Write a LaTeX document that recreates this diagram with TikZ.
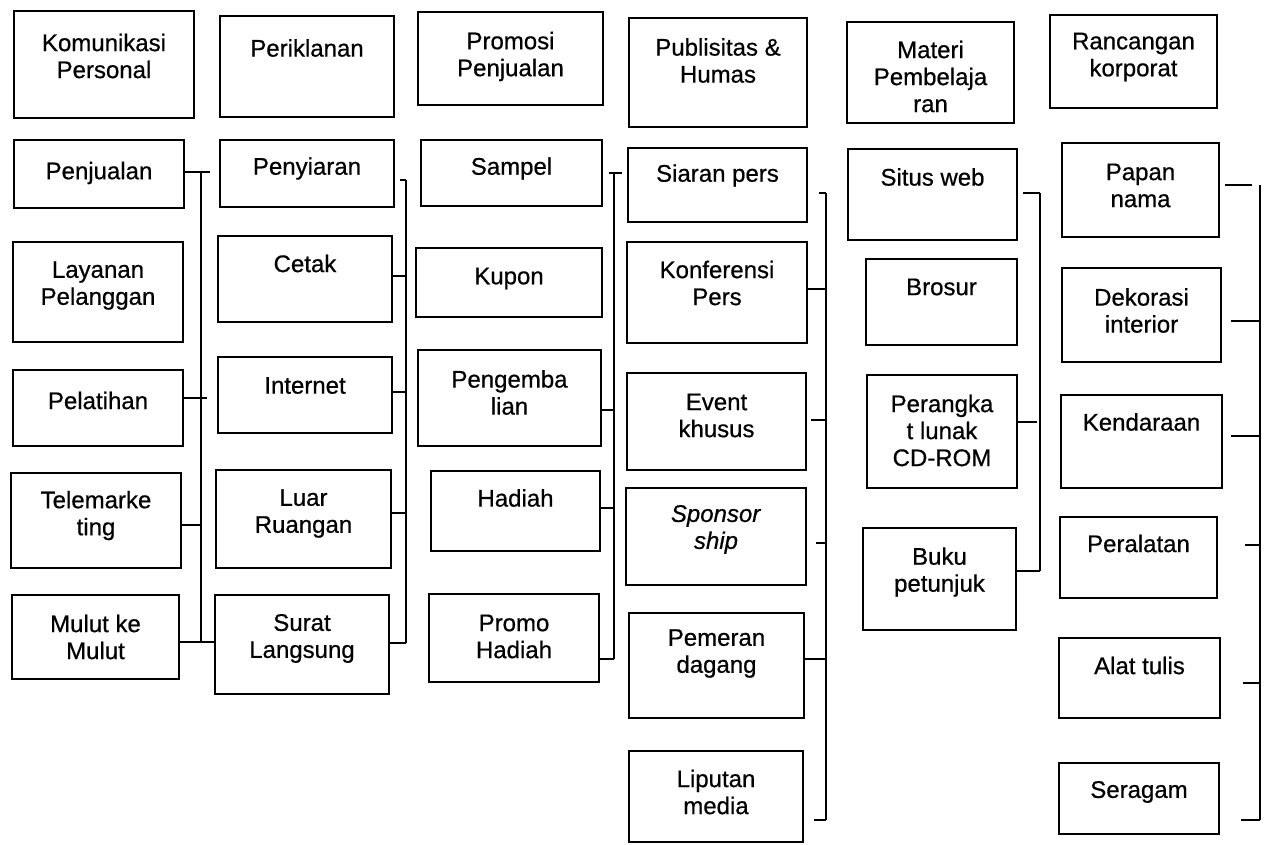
\documentclass[tikz,border=0pt]{standalone}
\usepackage{fontspec}
\setmainfont{Liberation Sans}
\newfontfamily\lblfont{Liberation Sans}[FakeBold=0.6]
\usetikzlibrary{fit}
\newcommand\mybox[7]{%
  \node[box, fit={(#2,#3) (#4,#5)}] (#1) {};
  \node[lbl] (#1-t) at ({(#2+#4)/2},#6) {#7};
}
\begin{document}
\begin{tikzpicture}[x=1pt,y=-1pt,
  box/.style={draw, line width=2.2pt, inner sep=0pt},
  lbl/.style={align=center, inner sep=0pt, font=\lblfont\fontsize{24}{27}\selectfont},
  conn/.style={line width=2pt}]
\useasboundingbox (0,0) rectangle (1267,844);

% headers
\mybox{h1}{14}{11}{194}{118}{56}{Komunikasi\\Personal}
\mybox{h2}{220}{16}{394}{117}{48}{Periklanan}
\mybox{h3}{418}{12}{603}{105}{56.5}{Promosi\\Penjualan}
\mybox{h4}{629}{18}{807}{127}{60.5}{Publisitas \&\\Humas}
\mybox{h5}{847}{22}{1014}{123}{76.5}{Materi\\Pembelaja\\ran}
\mybox{h6}{1050}{15}{1217}{108}{57}{Rancangan\\korporat}

% column 1
\mybox{pen}{14}{140}{184}{208}{173}{Penjualan}
\mybox{lay}{13}{242}{183}{342}{285.5}{Layanan\\Pelanggan}
\mybox{pel}{13}{370}{183}{446}{400.5}{Pelatihan}
\mybox{tel}{11}{473}{181}{568}{515.5}{Telemarke\\ting}
\mybox{mul}{12}{595}{179}{679}{637}{Mulut ke\\Mulut}

% column 2
\mybox{pny}{220}{140}{394}{207}{168.5}{Penyiaran}
\mybox{cet}{218}{236}{392}{322}{263.5}{Cetak}
\mybox{int}{218}{357}{392}{433}{385.5}{Internet}
\mybox{lua}{216}{470}{391}{568}{513.5}{Luar\\Ruangan}
\mybox{sur}{215}{595}{389}{694}{638.5}{Surat\\Langsung}

% column 3
\mybox{sam}{421}{140}{602}{206}{168.5}{Sampel}
\mybox{kup}{416}{248}{602}{317}{278.5}{Kupon}
\mybox{pgb}{418}{350}{601}{446}{392.5}{Pengemba\\lian}
\mybox{had}{431}{471}{600}{551}{498}{Hadiah}
\mybox{prh}{429}{594}{599}{682}{636.5}{Promo\\Hadiah}

% column 4
\mybox{sia}{628}{148}{807}{222}{175.5}{Siaran pers}
\mybox{kon}{627}{242}{807}{343}{283}{Konferensi\\Pers}
\mybox{eve}{627}{373}{806}{470}{415.5}{Event\\khusus}
\mybox{spo}{626}{488}{806}{585}{529.5}{\textit{Sponsor}\\\textit{ship}}
\mybox{pem}{629}{613}{804}{718}{653.5}{Pemeran\\dagang}
\mybox{lip}{629}{751}{803}{842}{792}{Liputan\\media}

% column 5
\mybox{sit}{848}{149}{1017}{240}{177}{Situs web}
\mybox{bro}{866}{259}{1017}{345}{287}{Brosur}
\mybox{prg}{867}{375}{1017}{488}{430.5}{Perangka\\t lunak\\CD-ROM}
\mybox{buk}{863}{528}{1016}{630}{572}{Buku\\petunjuk}

% column 6
\mybox{pap}{1062}{143}{1219}{237}{185.5}{Papan\\nama}
\mybox{dek}{1062}{268}{1221}{362}{310.5}{Dekorasi\\interior}
\mybox{ken}{1061}{395}{1222}{488}{422}{Kendaraan}
\mybox{per}{1060}{517}{1217}{598}{543.5}{Peralatan}
\mybox{ala}{1059}{638}{1220}{718}{665.5}{Alat tulis}
\mybox{ser}{1059}{763}{1219}{834}{792}{Seragam}

% spine 1
\coordinate (s1t) at (201,172);
\coordinate (s1c) at (201,398);
\coordinate (s1d) at (201,525);
\coordinate (s1b) at (201,642);
\draw[conn] (s1t) -- (s1b);
\draw[conn] (pen.east |- s1t) -- ([xshift=9pt]s1t);
\draw[conn] (pel.east |- s1c) -- ([xshift=6pt]s1c);
\draw[conn] (tel.east |- s1d) -- (s1d);
\draw[conn] (mul.east |- s1b) -- (sur.west |- s1b);

% spine 2
\coordinate (s2t) at (406,180);
\coordinate (s2a) at (406,276);
\coordinate (s2c) at (406,392);
\coordinate (s2d) at (406,513);
\coordinate (s2b) at (406,643);
\draw[conn] (s2t) -- (s2b);
\draw[conn] ([xshift=5pt]pny.east |- s2t) -- (s2t);
\draw[conn] (cet.east |- s2a) -- (s2a);
\draw[conn] (int.east |- s2c) -- (s2c);
\draw[conn] (lua.east |- s2d) -- (s2d);
\draw[conn] (sur.east |- s2b) -- (s2b);

% spine 3
\coordinate (s3t) at (614,173);
\coordinate (s3a) at (614,410);
\coordinate (s3c) at (614,508);
\coordinate (s3b) at (614,659);
\draw[conn] (s3t) -- (s3b);
\draw[conn] ([xshift=6pt]sam.east |- s3t) -- ([xshift=8pt]s3t);
\draw[conn] (pgb.east |- s3a) -- (s3a);
\draw[conn] (had.east |- s3c) -- (s3c);
\draw[conn] (prh.east |- s3b) -- (s3b);

% spine 4
\coordinate (s4t) at (826,193);
\coordinate (s4a) at (826,289);
\coordinate (s4c) at (826,420);
\coordinate (s4d) at (826,543);
\coordinate (s4e) at (826,659);
\coordinate (s4b) at (826,820);
\draw[conn] (s4t) -- (s4b);
\draw[conn] ([xshift=11pt]sia.east |- s4t) -- (s4t);
\draw[conn] (kon.east |- s4a) -- (s4a);
\draw[conn] ([xshift=4pt]eve.east |- s4c) -- (s4c);
\draw[conn] ([xshift=9pt]spo.east |- s4d) -- (s4d);
\draw[conn] (pem.east |- s4e) -- (s4e);
\draw[conn] ([xshift=10pt]lip.east |- s4b) -- (s4b);

% spine 5
\coordinate (s5t) at (1040,193);
\coordinate (s5a) at (1040,422);
\coordinate (s5b) at (1040,571);
\draw[conn] (s5t) -- (s5b);
\draw[conn] ([xshift=5pt]sit.east |- s5t) -- (s5t);
\draw[conn] (prg.east |- s5a) -- ([xshift=-3pt]s5a);
\draw[conn] (buk.east |- s5b) -- (s5b);

% spine 6
\coordinate (s6t) at (1260,185);
\coordinate (s6a) at (1260,321);
\coordinate (s6c) at (1260,436);
\coordinate (s6d) at (1260,545);
\coordinate (s6e) at (1260,683);
\coordinate (s6b) at (1260,820);
\draw[conn] (s6t) -- (s6b);
\draw[conn] ([xshift=5pt]pap.east |- s6t) -- ([xshift=-8pt]s6t);
\draw[conn] ([xshift=9pt]dek.east |- s6a) -- (s6a);
\draw[conn] ([xshift=8pt]ken.east |- s6c) -- (s6c);
\draw[conn] ([xshift=27pt]per.east |- s6d) -- (s6d);
\draw[conn] ([xshift=22pt]ala.east |- s6e) -- (s6e);
\draw[conn] ([xshift=21pt]ser.east |- s6b) -- (s6b);
\end{tikzpicture}
\end{document}
